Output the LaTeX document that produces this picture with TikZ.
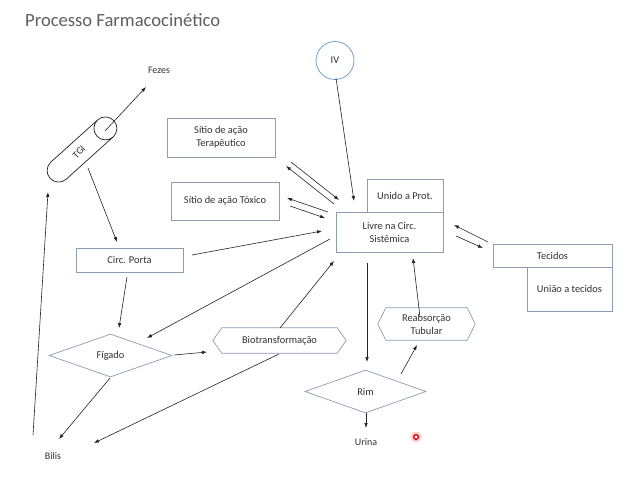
\documentclass[tikz,border=0pt]{standalone}
\usepackage{fontspec}
\setmainfont{Carlito}
\usetikzlibrary{arrows.meta,shapes.geometric,calc}
\definecolor{boxc}{RGB}{140,156,178}
\definecolor{ivc}{RGB}{100,150,200}
\definecolor{txt}{RGB}{50,50,50}
\definecolor{ttl}{RGB}{95,95,95}
\definecolor{arr}{RGB}{35,35,35}
\begin{document}
\begin{tikzpicture}[x=1pt,y=-1pt,
  font=\fontsize{10.4}{13}\selectfont, text=txt,
  boxn/.style={draw=boxc, line width=0.7pt, rectangle, inner sep=0pt, align=center},
  dia/.style={draw=boxc, line width=0.7pt, diamond, inner sep=0pt},
  hexn/.style={inner sep=0pt, align=center},
  hexline/.style={draw=boxc, line width=0.7pt},
  lbl/.style={inner sep=0pt, font=\fontsize{10}{12}\selectfont},
  conn/.style={draw=arr, line width=0.6pt, -{Latex[length=5pt,width=3.6pt]}},
]
\useasboundingbox[fill=white] (0,0) rectangle (640,480);

% title
\node[anchor=west, inner sep=0pt, font=\fontsize{18.6}{20}\selectfont, text=ttl] (title) at (25,20) {Processo Farmacocinético};

% boxes
\node[boxn, minimum width=108, minimum height=39] (terap) at (221,137.5) {Sítio de ação\\Terapêutico};
\node[boxn, minimum width=108, minimum height=38] (toxico) at (225,201) {Sítio de ação Tóxico};
\node[boxn, minimum width=107, minimum height=24] (porta) at (129.5,260) {Circ. Porta};
\node[boxn, minimum width=76, minimum height=33] (prot) at (405,195.5) {Unido a Prot.};
\node[boxn, minimum width=107, minimum height=40, fill=white] (livre) at (389.5,232) {Livre na Circ.\\Sistêmica};
\node[boxn, minimum width=85, minimum height=44] (uniao) at (569.5,289) {União a tecidos};
\node[boxn, minimum width=119, minimum height=23, fill=white] (tecidos) at (552.5,255.5) {Tecidos};

% IV
\node[draw=ivc, line width=0.7pt, circle, minimum size=38, inner sep=0pt] (iv) at (335,60.5) {IV};

% diamonds
\node[dia, minimum width=123, minimum height=43] (figado) at (110.5,355.5) {Fígado};
\node[dia, minimum width=121, minimum height=43] (rim) at (365.5,391.5) {Rim};

% hexagons
\node[hexn, minimum width=133, minimum height=25] (bio) at (279.5,340.5) {Biotransformação};
\draw[hexline] (bio.west) -- ($(bio.north west)+(9,0)$) -- ($(bio.north east)+(-9,0)$) -- (bio.east) -- ($(bio.south east)+(-9,0)$) -- ($(bio.south west)+(9,0)$) -- cycle;
\node[hexn, minimum width=97, minimum height=32] (reab) at (426.5,324) {Reabsorção\\Tubular};
\draw[hexline] (reab.west) -- ($(reab.north west)+(8,0)$) -- ($(reab.north east)+(-8,0)$) -- (reab.east) -- ($(reab.south east)+(-8,0)$) -- ($(reab.south west)+(8,0)$) -- cycle;

% TGI capsule
\draw[draw=arr, line width=0.7pt, shift={(82,149.5)}, rotate=42]
  (31.5pt,11.5pt) -- (-31.5pt,11.5pt) arc[start angle=90, end angle=270, radius=11.5pt] -- (31.5pt,-11.5pt)
  (31.5pt,0pt) ellipse[x radius=11.5pt, y radius=11.5pt];
\node[inner sep=0pt, rotate=45, font=\fontsize{10}{12}\selectfont] (tgi) at (79,152) {TGI};
\coordinate (tgic) at (82,149.5);

% labels
\node[lbl] (fezes) at (159,70) {Fezes};
\node[lbl] (bilis) at (53,456) {Bilis};
\node[lbl] (urina) at (366,442) {Urina};

% connectors
\draw[conn] ($(tgic)+(23,-18.5)$) -- ($(fezes)+(-13,17)$);
\draw[conn] ($(tgic)+(6,18.5)$) -- ($(porta)+(-12.5,-18)$);
\draw[conn] ($(bilis)+(-20,-21)$) -- ($(tgic)+(-34,42.5)$);
\draw[conn] ($(porta)+(62.5,-5)$) -- ($(livre)+(-67.5,-1)$);
\draw[conn] ($(porta)+(-2.5,17)$) -- ($(figado)+(8.5,-27.5)$);
\draw[conn] ($(figado)+(63.5,-0.5)$) -- ($(bio)+(-72.5,11.5)$);
\draw[conn] ($(bio)+(0.5,-12.5)$) -- ($(livre)+(-55.5,29)$);
\draw[conn] ($(bio)+(-0.5,13.5)$) -- ($(bilis)+(41,-13)$);
\draw[conn] ($(livre)+(-59.5,7)$) -- ($(figado)+(36.5,-17.5)$);
\draw[conn] ($(figado)+(-0.5,22.5)$) -- ($(bilis)+(6,-17)$);
\draw[conn] ($(livre)+(-55.5,-28)$) -- ($(terap)+(65,28.5)$);
\draw[conn] ($(terap)+(70,24.5)$) -- ($(livre)+(-50.5,-32)$);
\draw[conn] ($(livre)+(-61.5,-20)$) -- ($(toxico)+(62,-3)$);
\draw[conn] ($(toxico)+(65,5)$) -- ($(livre)+(-64.5,-14)$);
\draw[conn] ($(iv)+(1,17.5)$) -- ($(livre)+(-35.5,-31)$);
\draw[conn] ($(livre)+(66.5,4)$) -- ($(tecidos)+(-69.5,-7.5)$);
\draw[conn] ($(tecidos)+(-64.5,-13.5)$) -- ($(livre)+(64.5,-7)$);
\draw[conn] ($(livre)+(-22.5,31)$) -- ($(rim)+(1.5,-29.5)$);
\draw[conn] ($(rim)+(35.5,-17.5)$) -- ($(reab)+(-9.5,21)$);
\draw[conn] ($(reab)+(-6.5,-7)$) -- ($(livre)+(23.5,26)$);
\draw[conn] ($(rim)+(0.5,21.5)$) -- ($(urina)+(0,-14)$);

% pointer dot
\fill[red!35, opacity=0.6] (416,437) circle[radius=5.5pt];
\draw[red!85!black, line width=1.3pt, fill=white] (416,437) circle[radius=2.3pt];
\end{tikzpicture}
\end{document}
